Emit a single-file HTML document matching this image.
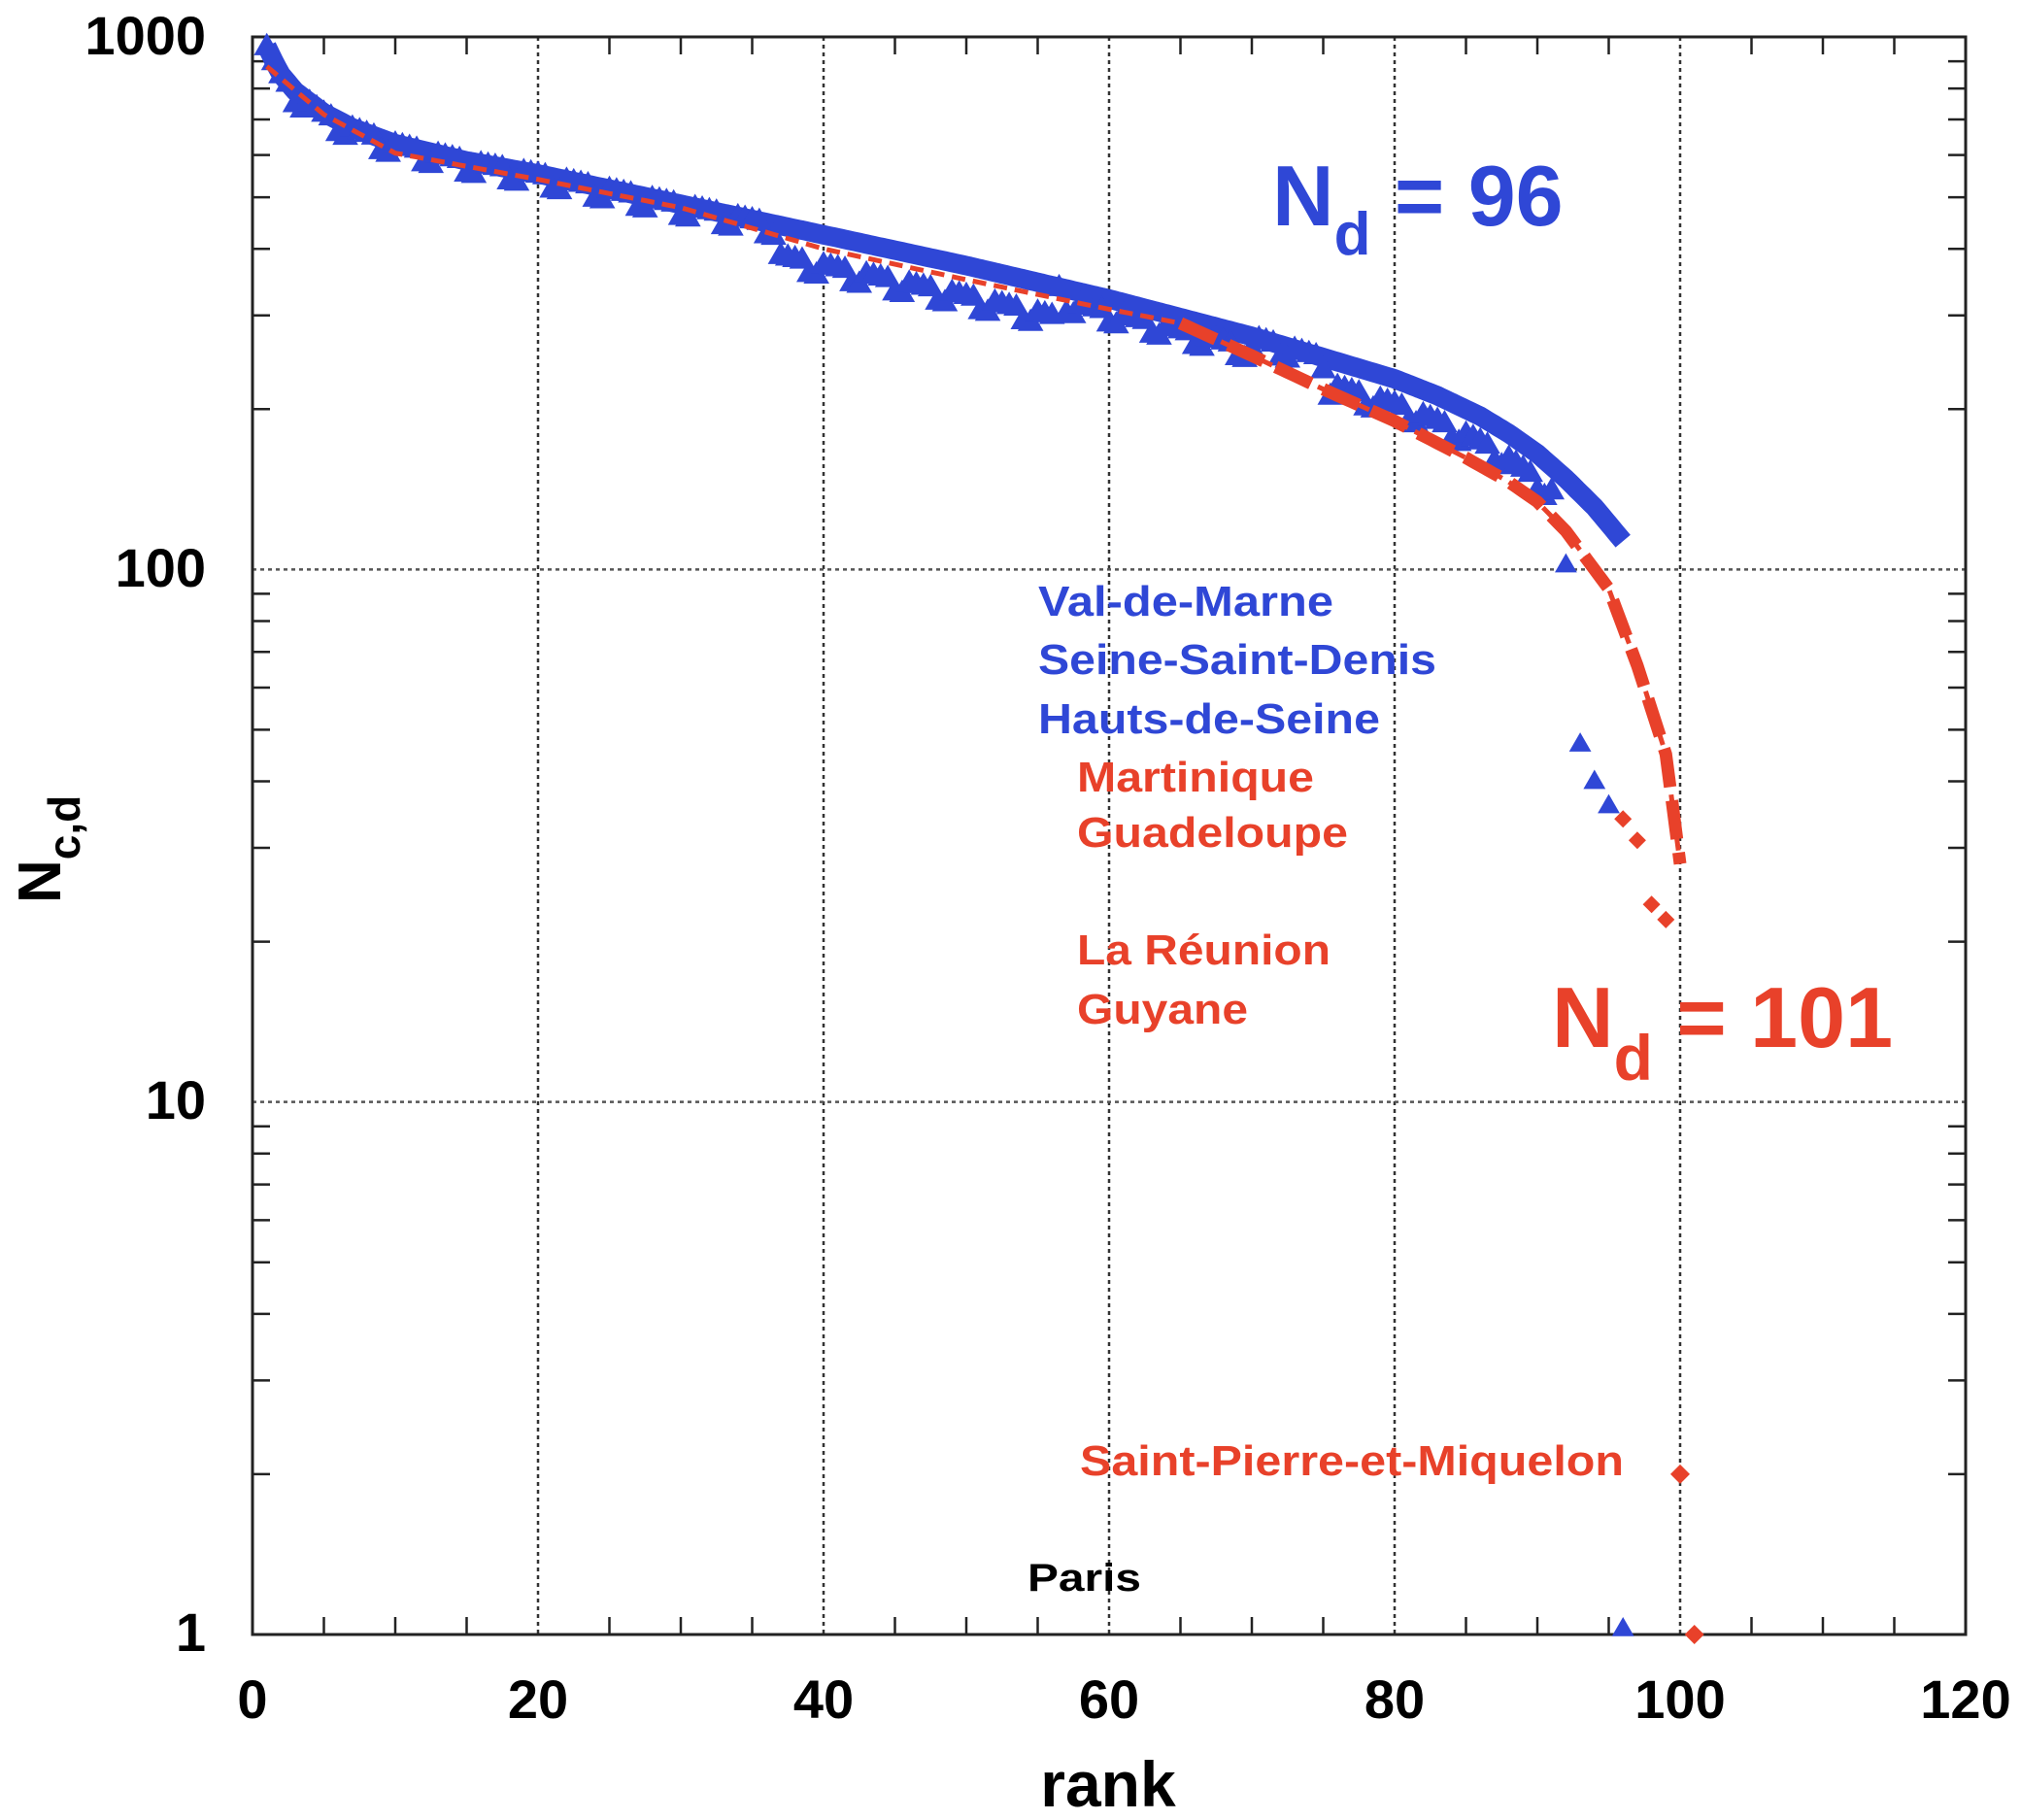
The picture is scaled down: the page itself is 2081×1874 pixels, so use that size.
<!DOCTYPE html>
<html><head><meta charset="utf-8"><style>
html,body{margin:0;padding:0;background:#fff;}
svg{display:block;font-family:"Liberation Sans",Arial,sans-serif;font-weight:bold;}
</style></head><body>
<svg id="s" width="2081" height="1874" viewBox="0 0 2081 1874" xmlns="http://www.w3.org/2000/svg">
<g id="grid"></g>
<g id="data"></g>
<g id="txt">
<text x="212" y="56" font-size="56" text-anchor="end">1000</text>
<text x="212" y="604" font-size="56" text-anchor="end">100</text>
<text x="212" y="1152" font-size="56" text-anchor="end">10</text>
<text x="212" y="1700" font-size="56" text-anchor="end">1</text>
<text x="260" y="1769" font-size="56" text-anchor="middle">0</text>
<text x="554" y="1769" font-size="56" text-anchor="middle">20</text>
<text x="848" y="1769" font-size="56" text-anchor="middle">40</text>
<text x="1142" y="1769" font-size="56" text-anchor="middle">60</text>
<text x="1436" y="1769" font-size="56" text-anchor="middle">80</text>
<text x="1730" y="1769" font-size="56" text-anchor="middle">100</text>
<text x="2024" y="1769" font-size="56" text-anchor="middle">120</text>
<text x="1141" y="1860" font-size="66" text-anchor="middle">rank</text>
<text transform="translate(62,930) rotate(-90)" font-size="62">N<tspan font-size="46" dy="20">c,d</tspan></text>
<text x="1310" y="232" font-size="88" fill="#2f47d6">N<tspan font-size="62" dy="30">d</tspan><tspan dy="-30"> = 96</tspan></text>
<text x="1598" y="1078" font-size="88" fill="#e8412a">N<tspan font-size="66" dy="34">d</tspan><tspan dy="-34"> = 101</tspan></text>
<g font-size="44" fill="#2f47d6">
<text x="1069" y="634" textLength="304" lengthAdjust="spacingAndGlyphs">Val-de-Marne</text>
<text x="1069" y="694" textLength="410" lengthAdjust="spacingAndGlyphs">Seine-Saint-Denis</text>
<text x="1069" y="755" textLength="352" lengthAdjust="spacingAndGlyphs">Hauts-de-Seine</text>
</g>
<g font-size="44" fill="#e8412a">
<text x="1109" y="815" textLength="244" lengthAdjust="spacingAndGlyphs">Martinique</text>
<text x="1109" y="872" textLength="279" lengthAdjust="spacingAndGlyphs">Guadeloupe</text>
<text x="1109" y="993" textLength="261" lengthAdjust="spacingAndGlyphs">La Réunion</text>
<text x="1109" y="1054" textLength="176" lengthAdjust="spacingAndGlyphs">Guyane</text>
<text x="1112" y="1519" textLength="560" lengthAdjust="spacingAndGlyphs">Saint-Pierre-et-Miquelon</text>
</g>
<text x="1058" y="1638" font-size="40" fill="#000" textLength="117" lengthAdjust="spacingAndGlyphs">Paris</text>
</g>
</svg>
<script>
var L=260,R=2024,T=38,B=1683,D=(B-T)/3;
function X(r){return L+r*(R-L)/120;}
function Y(v){return B-Math.log10(v)*D;}
var ns="http://www.w3.org/2000/svg";
function el(p,n,a){var e=document.createElementNS(ns,n);for(var k in a)e.setAttribute(k,a[k]);document.getElementById(p).appendChild(e);return e;}
for(var i=1;i<6;i++)el("grid","line",{x1:X(i*20),x2:X(i*20),y1:T,y2:B,stroke:"#333","stroke-width":2.5,"stroke-dasharray":"4,4"});
[10,100].forEach(function(v){el("grid","line",{x1:L,x2:R,y1:Y(v),y2:Y(v),stroke:"#555","stroke-width":2.5,"stroke-dasharray":"4,4"});});
for(var r=5;r<120;r+=5){if(r%20==0)continue;el("grid","line",{x1:X(r),x2:X(r),y1:T,y2:T+18,stroke:"#222","stroke-width":2.5});el("grid","line",{x1:X(r),x2:X(r),y1:B,y2:B-18,stroke:"#222","stroke-width":2.5});}
for(var d=0;d<3;d++)for(var m=2;m<10;m++){var y=Y(m*Math.pow(10,d));el("grid","line",{x1:L,x2:L+18,y1:y,y2:y,stroke:"#222","stroke-width":2.5});el("grid","line",{x1:R,x2:R-18,y1:y,y2:y,stroke:"#222","stroke-width":2.5});}
el("grid","rect",{x:L,y:T,width:R-L,height:B-T,fill:"none",stroke:"#222","stroke-width":3});
function interp(tab,r){for(var i=0;i<tab.length-1;i++){if(r>=tab[i][0]&&r<=tab[i+1][0]){var t=(r-tab[i][0])/(tab[i+1][0]-tab[i][0]);return Math.pow(10,Math.log10(tab[i][1])*(1-t)+Math.log10(tab[i+1][1])*t);}}return tab[tab.length-1][1];}
var bf=[[1,960],[1.5,900],[2,850],[3,790],[5,720],[7,675],[10,630],[15,585],[20,553],[30,485],[40,425],[50,372],[60,322],[70,274],[75,250],[80,228],[83,212],[86,194],[88,180],[90,165],[92,148],[94,131],[96,113]];
var rf=[[1,880],[5,715],[10,605],[20,540],[30,478],[40,400],[50,350],[60,308],[65,290],[70,252],[75,218],[80,190],[85,162],[88,146],[90,134],[92,118],[95,92],[97,66],[99,45],[100,28]];
var blues="#2f47d6",reds="#e8412a";
var p="";for(var r=1;r<=96;r+=0.25)p+=(r==1?"M":"L")+X(r).toFixed(1)+","+Y(interp(bf,r)).toFixed(1);
el("data","path",{d:p,fill:"none",stroke:blues,"stroke-width":20,"stroke-linejoin":"round"});
function tri(x,y,s){el("data","path",{d:"M"+x+","+(y-s)+"L"+(x+s*0.95)+","+(y+s*0.65)+"L"+(x-s*0.95)+","+(y+s*0.65)+"Z",fill:blues});}
for(var r=1;r<=91;r+=0.5){var v=interp(bf,r);var f=1;if(r>=37&&r<=56)f=0.88;else if(r>=57&&r<=70)f=0.95;else if(r>75)f=0.9;f*=(Math.floor(r)%3==0?0.95:1);tri(X(r),Y(v*f),14);}
tri(X(92),Y(102),12);tri(X(93),Y(47),12);tri(X(94),Y(40),12);tri(X(95),Y(36),12);tri(X(96),Y(1)-6,12);
var q="";for(var r=1;r<=100;r+=0.5)q+=(r==1?"M":"L")+X(r).toFixed(1)+","+Y(interp(rf,r)).toFixed(1);
el("data","path",{d:q,fill:"none",stroke:reds,"stroke-width":5,"stroke-dasharray":"14,8"});
var q2="";for(var r=65;r<=100;r+=0.5)q2+=(r==65?"M":"L")+X(r).toFixed(1)+","+Y(interp(rf,r)).toFixed(1);
el("data","path",{d:q2,fill:"none",stroke:reds,"stroke-width":13,"stroke-dasharray":"40,14"});
function dia(x,y,s){el("data","path",{d:"M"+x+","+(y-s)+"L"+(x+s)+","+y+"L"+x+","+(y+s)+"L"+(x-s)+","+y+"Z",fill:reds});}
dia(X(96),Y(34),9);dia(X(97),Y(31),9);dia(X(98),Y(23.5),9);dia(X(99),Y(22),9);
dia(X(100),Y(2),10);dia(X(101),Y(1),10);
</script>
</body></html>
